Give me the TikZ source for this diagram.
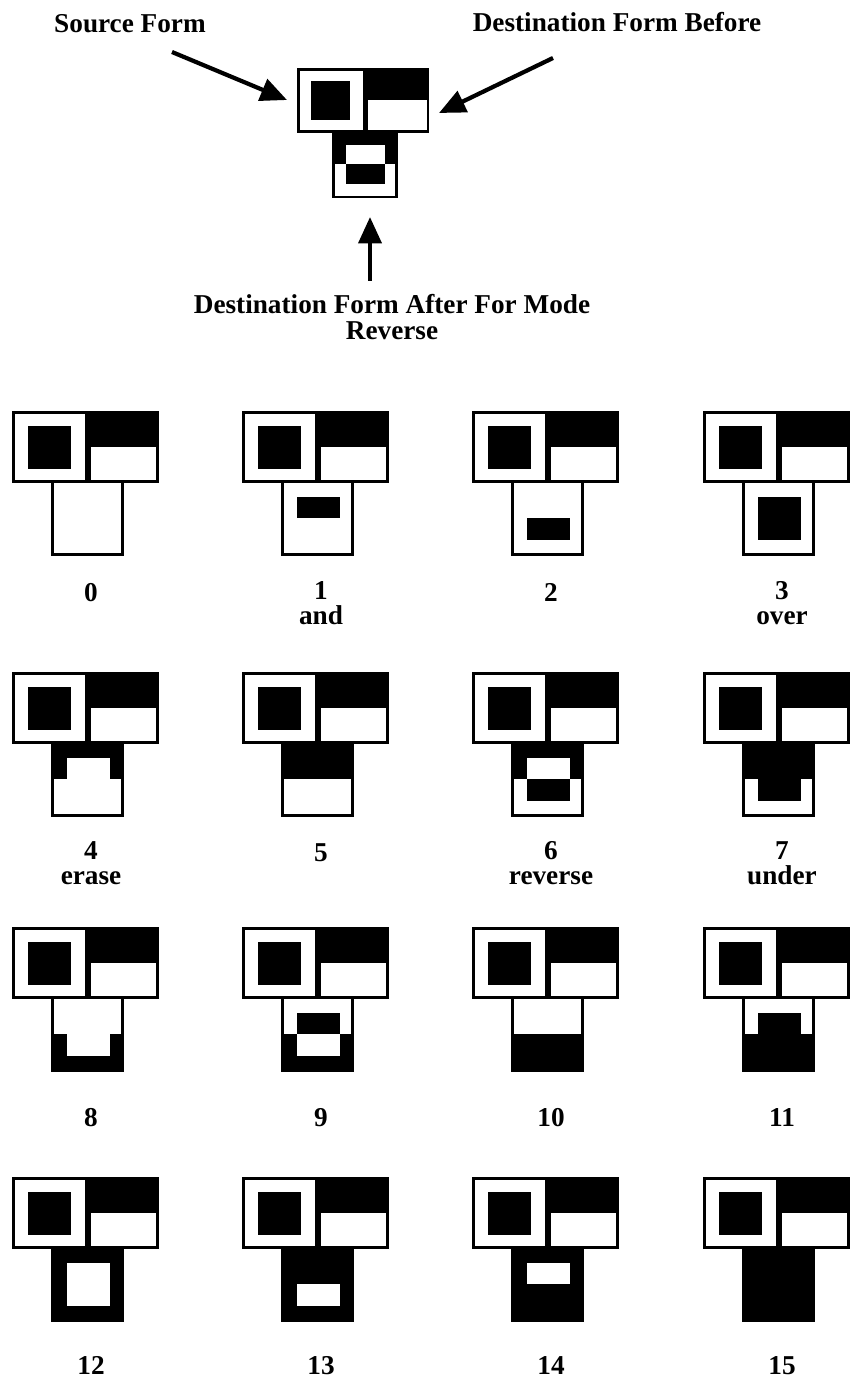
\documentclass[tikz,border=0pt]{standalone}
\usepackage{fontspec}
\setmainfont{Liberation Serif}
\usetikzlibrary{arrows.meta}

\tikzset{
  formtext/.style={font=\bfseries\fontsize{15.5}{14.5}\selectfont, inner sep=0pt, align=center, anchor=north},
  pointer/.style={line width=2.4pt, -{Triangle[length=15pt,width=13pt]}},
}

% source form, destination before and destination after for one rule
\newcommand{\ruleform}[1]{%
  \pgfmathtruncatemacro{\bitB}{mod(#1,2)}%
  \pgfmathtruncatemacro{\bitC}{mod(floor(#1/2),2)}%
  \pgfmathtruncatemacro{\bitA}{mod(floor(#1/4),2)}%
  \pgfmathtruncatemacro{\bitE}{mod(floor(#1/8),2)}%
  \ifnum\bitA=1 \def\colA{black}\else\def\colA{white}\fi
  \ifnum\bitB=1 \def\colB{black}\else\def\colB{white}\fi
  \ifnum\bitC=1 \def\colC{black}\else\def\colC{white}\fi
  \ifnum\bitE=1 \def\colE{black}\else\def\colE{white}\fi
  % source and destination before
  \fill[black] (0,0) rectangle (147,72);
  \fill[white] (3,3) rectangle (73,69);
  \fill[black] (16,15) rectangle (59,58);
  \fill[white] (78.5,36) rectangle (144,69);
  % destination after
  \fill[black] (39,69) rectangle (112,145);
  \fill[fill=\colA] (42,72) rectangle (109,107);
  \fill[fill=\colE] (42,107) rectangle (109,142);
  \fill[fill=\colB] (54.5,86) rectangle (97.5,107);
  \fill[fill=\colC] (54.5,107) rectangle (97.5,129);
}

\begin{document}
\begin{tikzpicture}[x=0.02cm, y=-0.02cm]
  \useasboundingbox (0,0) rectangle (849,1395);

  % legend at the top
  \begin{scope}[shift={(297,68)}, scale=0.9]
    \ruleform{6}
  \end{scope}
  \node[formtext] (srclabel) at (130,14) {Source Form};
  \node[formtext] (dstlabel) at (617,12) {Destination Form Before};
  \node[formtext] (afterlabel) at (392,294) {Destination Form After For Mode\\Reverse};
  \coordinate (srctail) at (172,52);
  \coordinate (srctip) at (287,100);
  \coordinate (dsttail) at (553,58);
  \coordinate (dsttip) at (439,113);
  \coordinate (aftertail) at (370,281);
  \coordinate (aftertip) at (370,217);
  \draw[pointer] (srctail) -- (srctip);
  \draw[pointer] (dsttail) -- (dsttip);
  \draw[pointer] (aftertail) -- (aftertip);

  % the sixteen rules
  \foreach \rul/\cx/\cy/\lb/\mode in {
      0/12/411/601/{}, 1/242/411/599/and, 2/472/411/601/{}, 3/703/411/599/over,
      4/12/672/859/erase, 5/242/672/861/{}, 6/472/672/859/reverse, 7/703/672/859/under,
      8/12/927/1126/{}, 9/242/927/1126/{}, 10/472/927/1126/{}, 11/703/927/1126/{},
      12/12/1177/1374/{}, 13/242/1177/1374/{}, 14/472/1177/1374/{}, 15/703/1177/1374/{}} {
    \begin{scope}[shift={(\cx,\cy)}]
      \ruleform{\rul}
    \end{scope}
    \node[formtext] (rule\rul) at ({\cx+79},{\lb-18}) {\rul\\\mode};
  }
\end{tikzpicture}
\end{document}
